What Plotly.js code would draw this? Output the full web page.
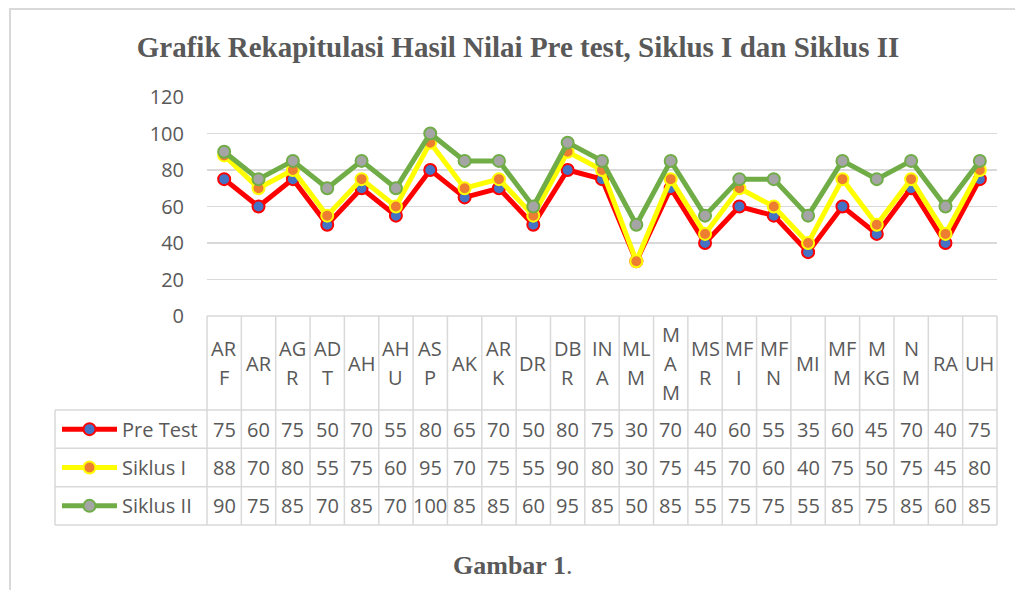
<!DOCTYPE html>
<html>
<head>
<meta charset="utf-8">
<script src="https://cdn.plot.ly/plotly-3.0.1.min.js"></script>
<style>
  html, body { margin: 0; padding: 0; background: #ffffff; }
  #chart { width: 1015px; height: 590px; }
</style>
</head>
<body>
<div id="chart"></div>
<script>
// ---- data ----
const students = ["ARF","AR","AGR","ADT","AH","AHU","ASP","AK","ARK","DR","DBR","INA","MLM","MAM","MSR","MFI","MFN","MI","MFM","MKG","NM","RA","UH"];
const headerLabels = ["AR<br>F","AR","AG<br>R","AD<br>T","AH","AH<br>U","AS<br>P","AK","AR<br>K","DR","DB<br>R","IN<br>A","ML<br>M","M<br>A<br>M","MS<br>R","MF<br>I","MF<br>N","MI","MF<br>M","M<br>KG","N<br>M","RA","UH"];
const seriesNames = ["Pre Test", "Siklus I", "Siklus II"];
const preTest  = [75,60,75,50,70,55,80,65,70,50,80,75,30,70,40,60,55,35,60,45,70,40,75];
const siklus1  = [88,70,80,55,75,60,95,70,75,55,90,80,30,75,45,70,60,40,75,50,75,45,80];
const siklus2  = [90,75,85,70,85,70,100,85,85,60,95,85,50,85,55,75,75,55,85,75,85,60,85];
const yTicks   = [0,20,40,60,80,100,120];

// ---- styles ----
const lineColors   = ["#FF0000", "#FFFF00", "#70AD47"];
const markerColors = ["#4472C4", "#ED7D31", "#A5A5A5"];
const txtColor = "#595959";
const gridColor = "#d9d9d9";
const FONT = "Open Sans, Lato, sans-serif";

// ---- geometry (page pixels -> paper) ----
const W = 1015, Hh = 590;
const L = 207, R = 18, T = 97, B = 274;
const PW = W - L - R, PH = Hh - T - B;
const px = p => (p - L) / PW;
const py = p => (T + PH - p) / PH;

const seriesValues = [preTest, siklus1, siklus2];
const traces = seriesValues.map((vals, k) => ({
  type: "scatter",
  mode: "lines+markers",
  name: seriesNames[k],
  x: students,
  y: vals,
  line: { color: lineColors[k], width: 5 },
  marker: { color: markerColors[k], size: 12, line: { color: lineColors[k], width: 2 } },
  hoverinfo: "skip",
  cliponaxis: false
}));

const shapes = [];
const annotations = [];

// outer frame
shapes.push({ type: "line", xref: "paper", yref: "paper", x0: px(10), x1: px(10), y0: py(9), y1: py(592), line: { color: gridColor, width: 2 } });
shapes.push({ type: "line", xref: "paper", yref: "paper", x0: px(9), x1: px(1016), y0: py(9), y1: py(9), line: { color: gridColor, width: 2 } });

// table geometry
const rowLines = [410, 448.3, 486.7, 525];
const tableBorder = { color: gridColor, width: 1.5 };
// top of header
shapes.push({ type: "line", xref: "paper", yref: "paper", x0: 0, x1: 1, y0: py(316), y1: py(316), line: tableBorder });
rowLines.forEach(r => shapes.push({ type: "line", xref: "paper", yref: "paper", x0: px(55), x1: 1, y0: py(r), y1: py(r), line: tableBorder }));
// vertical column lines
for (let i = 0; i <= students.length; i++) {
  const edge = (i === 0 || i === students.length);
  shapes.push(edge
    ? { type: "line", xref: "paper", yref: "paper", x0: i === 0 ? 0 : 1, x1: i === 0 ? 0 : 1, y0: py(316), y1: py(525), line: tableBorder }
    : { type: "line", xref: "x", yref: "paper", x0: i - 0.5, x1: i - 0.5, y0: py(316), y1: py(525), line: tableBorder });
}
// legend column left border
shapes.push({ type: "line", xref: "paper", yref: "paper", x0: px(55), x1: px(55), y0: py(410), y1: py(525), line: tableBorder });

// header labels (one annotation per wrapped line, vertically centred)
const headerMid = 363, lineGap = 29;
headerLabels.forEach((lab, i) => {
  const parts = lab.split("<br>");
  parts.forEach((part, j) => {
    const yPix = headerMid + (j - (parts.length - 1) / 2) * lineGap;
    annotations.push({ xref: "x", yref: "paper", x: students[i], y: py(yPix), text: part, showarrow: false,
      xanchor: "center", yanchor: "middle", font: { family: FONT, size: 20, color: txtColor } });
  });
});

// data rows
const rowCenters = rowLines.slice(0, 3).map((r, k) => (r + rowLines[k + 1]) / 2);
seriesValues.forEach((vals, k) => {
  vals.forEach((v, i) => {
    annotations.push({ xref: "x", yref: "paper", x: students[i], y: py(rowCenters[k]), text: String(v), showarrow: false,
      xanchor: "center", yanchor: "middle", font: { family: FONT, size: 20, color: txtColor } });
  });
  // legend key
  shapes.push({ type: "line", xref: "paper", yref: "paper", x0: px(62), x1: px(117), y0: py(rowCenters[k]), y1: py(rowCenters[k]),
    line: { color: lineColors[k], width: 5 } });
  shapes.push({ type: "circle", xref: "paper", yref: "paper", xsizemode: "pixel", ysizemode: "pixel",
    xanchor: px(89.5), yanchor: py(rowCenters[k]), x0: -6, x1: 6, y0: -6, y1: 6,
    fillcolor: markerColors[k], line: { color: lineColors[k], width: 2 } });
  annotations.push({ xref: "paper", yref: "paper", x: px(120), y: py(rowCenters[k]), text: seriesNames[k], showarrow: false,
    xanchor: "left", yanchor: "middle", font: { family: FONT, size: 20, color: txtColor } });
});

// caption
annotations.push({ xref: "paper", yref: "paper", x: px(512), y: py(565), text: "<b>Gambar 1</b>.", showarrow: false,
  xanchor: "center", yanchor: "middle", font: { family: "Liberation Serif, Times New Roman, serif", size: 26, color: txtColor } });

const layout = {
  width: W, height: Hh,
  margin: { l: L, r: R, t: T, b: B, pad: 0 },
  paper_bgcolor: "#ffffff",
  plot_bgcolor: "#ffffff",
  showlegend: false,
  title: {
    text: "<b>Grafik Rekapitulasi Hasil Nilai Pre test, Siklus I dan Siklus II</b>",
    font: { family: "Liberation Serif, Times New Roman, serif", size: 29, color: txtColor },
    xref: "container", yref: "container", x: 518 / W, y: 1 - 47 / Hh, xanchor: "center", yanchor: "middle"
  },
  xaxis: {
    type: "category", categoryorder: "array", categoryarray: students,
    range: [-0.5, students.length - 0.5],
    showticklabels: false, showgrid: false, zeroline: false, showline: false, ticks: "", fixedrange: true
  },
  yaxis: {
    range: [0, 120], tickvals: yTicks, ticktext: yTicks.map(String),
    showgrid: true, gridcolor: gridColor, gridwidth: 1.5, zeroline: false, showline: false, ticks: "",
    ticklabelstandoff: 22,
    tickfont: { family: FONT, size: 20, color: txtColor }, fixedrange: true
  },
  shapes: shapes,
  annotations: annotations
};

Plotly.newPlot("chart", traces, layout, { displayModeBar: false, staticPlot: true });
</script>
</body>
</html>
